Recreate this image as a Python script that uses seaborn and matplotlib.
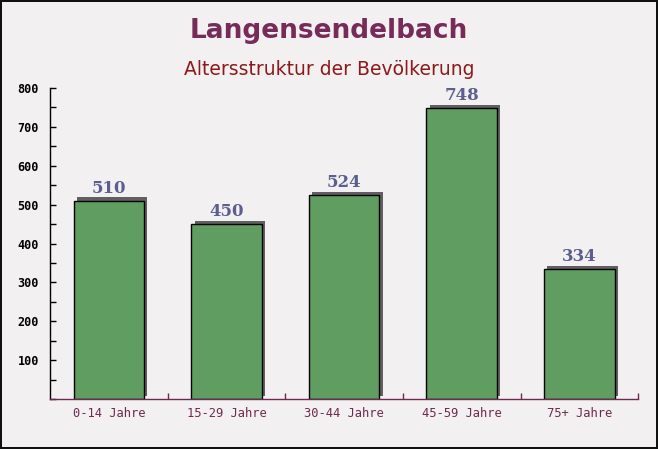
import matplotlib

matplotlib.use("Agg")

import matplotlib.pyplot as plt
import matplotlib.patheffects as pe
import pandas as pd
import seaborn as sns
from matplotlib.ticker import MultipleLocator, FixedLocator

categories = ["0-14 Jahre", "15-29 Jahre", "30-44 Jahre", "45-59 Jahre", "75+ Jahre"]
values = [510, 450, 524, 748, 334]
y_ticks = [100, 200, 300, 400, 500, 600, 700, 800]

title = "Langensendelbach"
subtitle = "Altersstruktur der Bevölkerung"

bg = "#f3f0f1"
bar_color = "#5f9d60"
label_color = "#5a5f8f"
maroon = "#6e2b4f"

sns.set_theme(style="white")
plt.rcParams["font.family"] = ["DejaVu Sans"]

df = pd.DataFrame({"group": categories, "count": values})

fig = plt.figure(figsize=(6.58, 4.49), dpi=100, facecolor=bg)
fig.patch.set_edgecolor("#111111")
fig.patch.set_linewidth(1.5)
ax = fig.add_axes([0.076, 0.111, 0.894, 0.693])
ax.set_facecolor(bg)

sns.barplot(data=df, x="group", y="count", color=bar_color, width=0.6,
            edgecolor="black", linewidth=1.0, saturation=1, ax=ax)

# drop shadow up and to the right, like the original
for patch in ax.patches:
    patch.set_path_effects([
        pe.SimplePatchShadow(offset=(2.4, 2.4), shadow_rgbFace="#606060", alpha=1.0),
        pe.Normal(),
    ])

for patch, v in zip(ax.patches, values):
    ax.annotate(str(v), (patch.get_x() + patch.get_width() / 2, v),
                xytext=(0, 3), textcoords="offset points", ha="center", va="bottom",
                fontsize=12, fontweight="bold", family="DejaVu Serif", color=label_color)

ax.set_xlim(-0.5, len(categories) - 0.5)
ax.set_ylim(0, 800)
ax.set_xlabel("")
ax.set_ylabel("")

ax.yaxis.set_major_locator(FixedLocator(y_ticks))
ax.yaxis.set_minor_locator(MultipleLocator(50))
ax.set_yticklabels([str(t) for t in y_ticks])
ax.tick_params(axis="y", which="both", direction="in", length=4, width=1,
               color="black", left=True, labelsize=8.5, pad=8)
for lab in ax.get_yticklabels():
    lab.set_family("DejaVu Sans Mono")
    lab.set_fontweight("bold")
    lab.set_color("black")

ax.xaxis.set_minor_locator(FixedLocator([i + 0.5 for i in range(len(categories))]))
ax.tick_params(axis="x", which="major", length=0, labelsize=8.7, pad=6, colors=maroon)
ax.tick_params(axis="x", which="minor", direction="in", length=4, width=1,
               color=maroon, bottom=True)
for lab in ax.get_xticklabels():
    lab.set_family("DejaVu Sans Mono")

sns.despine(ax=ax, top=True, right=True)
ax.spines["left"].set_color("black")
ax.spines["left"].set_linewidth(1)
ax.spines["bottom"].set_color(maroon)
ax.spines["bottom"].set_linewidth(1)

fig.text(0.5, 0.932, title, ha="center", va="center", fontsize=19,
         fontweight="bold", color="#772b58")
fig.text(0.5, 0.845, subtitle, ha="center", va="center", fontsize=13.5,
         color="#8b1a1a")

fig.savefig("out.png", dpi=100, facecolor=bg, edgecolor=fig.patch.get_edgecolor())
